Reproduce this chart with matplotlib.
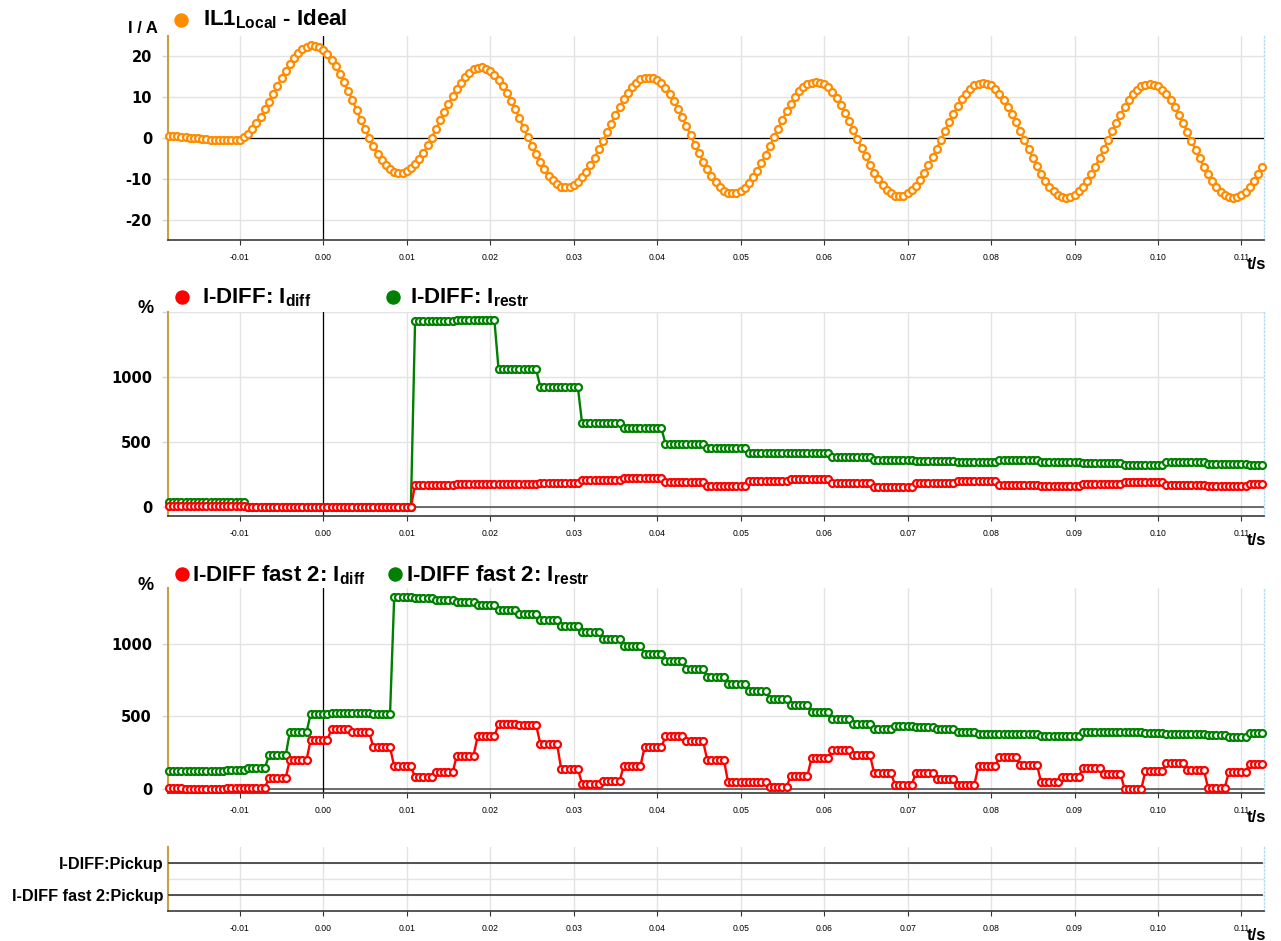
import numpy as np
import matplotlib
matplotlib.use("Agg")
import matplotlib.pyplot as plt
from matplotlib.lines import Line2D

plt.rcParams['axes.unicode_minus'] = False
plt.rcParams['mathtext.fontset'] = 'custom'
plt.rcParams['mathtext.rm'] = 'Liberation Sans'
plt.rcParams['mathtext.bf'] = 'Liberation Sans:bold'
plt.rcParams['mathtext.it'] = 'Liberation Sans:italic'

W, H = 1281, 941

# ---------------- data ----------------
# sampling grid: 0.5 ms samples starting at -18.5 ms
t0_ms = -18.5
step_ms = 0.5
n_samples = 263
t = (t0_ms + step_ms * np.arange(n_samples)) / 1000.0

# IL1 Local - Ideal (A), one value per sample
il1_ideal = [
    0.6, 0.5, 0.4, 0.3, 0.2, 0.1, 0.0, -0.1, -0.2, -0.3, -0.4, -0.5, -0.6, -0.6, -0.6,
    -0.5, -0.6, -0.4, 0.2, 1.0, 2.2, 3.6, 5.2, 7.0, 8.9,
    10.8, 12.8, 14.7, 16.5, 18.1, 19.6, 20.8, 21.7, 22.4, 22.7,
    22.6, 22.3, 21.6, 20.5, 19.2, 17.6, 15.8, 13.7, 11.5, 9.2,
    6.9, 4.5, 2.2, 0.0, -2.0, -3.8, -5.4, -6.7, -7.6, -8.3,
    -8.6, -8.6, -8.2, -7.4, -6.4, -5.1, -3.6, -1.8, 0.1, 2.2,
    4.3, 6.3, 8.4, 10.3, 12.1, 13.6, 15.0, 16.0, 16.8, 17.2,
    17.3, 17.0, 16.5, 15.5, 14.3, 12.8, 11.1, 9.1, 7.0, 4.8,
    2.5, 0.3, -1.9, -4.0, -6.0, -7.7, -9.2, -10.4, -11.3, -11.9,
    -12.1, -12.0, -11.5, -10.7, -9.6, -8.3, -6.6, -4.8, -2.8, -0.8,
    1.4, 3.5, 5.6, 7.6, 9.5, 11.1, 12.5, 13.6, 14.4, 14.8,
    14.8, 14.7, 14.2, 13.4, 12.2, 10.7, 9.0, 7.1, 5.1, 2.9,
    0.7, -1.6, -3.7, -5.8, -7.7, -9.4, -10.9, -12.0, -12.9, -13.4,
    -13.6, -13.5, -13.0, -12.2, -11.1, -9.6, -8.0, -6.1, -4.1, -2.0,
    0.2, 2.3, 4.4, 6.5, 8.3, 10.0, 11.4, 12.5, 13.2, 13.6,
    13.7, 13.6, 13.2, 12.4, 11.2, 9.8, 8.1, 6.2, 4.2, 2.0,
    -0.2, -2.4, -4.5, -6.6, -8.5, -10.1, -11.6, -12.7, -13.6, -14.1,
    -14.3, -14.1, -13.6, -12.8, -11.7, -10.2, -8.6, -6.7, -4.7, -2.6,
    -0.4, 1.8, 3.9, 6.0, 7.8, 9.5, 10.9, 12.0, 12.9, 13.3,
    13.4, 13.3, 12.9, 12.0, 10.9, 9.4, 7.7, 5.9, 3.8, 1.7,
    -0.5, -2.7, -4.9, -6.9, -8.8, -10.5, -11.9, -13.0, -13.9, -14.4,
    -14.6, -14.4, -13.9, -13.1, -11.9, -10.5, -8.8, -7.0, -5.0, -2.8,
    -0.6, 1.6, 3.7, 5.7, 7.6, 9.3, 10.7, 11.8, 12.7, 13.1,
    13.3, 13.1, 12.7, 11.8, 10.7, 9.2, 7.6, 5.7, 3.7, 1.5,
    -0.7, -2.9, -5.0, -7.1, -8.9, -10.6, -12.0, -13.2, -14.0, -14.5,
    -14.7, -14.5, -14.0, -13.2, -12.0, -10.6, -8.9, -7.1,
]

# I-DIFF (5 ms steps): level per step and samples per step
idiff_counts = [19] + [10] * 24 + [4]
idiff_levels = [9, 0, 0, 0, 0, 169, 174, 176, 187, 210, 220, 195, 162,
                197, 212, 185, 156, 187, 197, 172, 159, 177, 190, 172, 164, 177]
irestr_levels = [40, 0, 0, 0, 0, 1430, 1440, 1058, 924, 647, 608, 485, 451,
                 418, 412, 386, 364, 354, 343, 360, 345, 338, 324, 343, 330, 324]

# I-DIFF fast 2 (2.5 ms steps)
fast_counts = [4] + [5] * 51 + [4]
fast_idiff_levels = [5, 3, 2, 5, 8, 76, 202, 340, 416, 393, 287, 156, 80, 115,
                     230, 363, 448, 439, 313, 138, 37, 55, 159, 288, 362, 330,
                     200, 46, 46, 12, 92, 212, 270, 233, 108, 30, 111, 71, 30,
                     159, 217, 166, 46, 83, 147, 106, 0, 124, 180, 129, 9, 120, 175]
fast_irestr_levels = [126, 126, 126, 130, 145, 232, 393, 520, 525, 522, 517,
                      1324, 1318, 1306, 1287, 1267, 1237, 1207, 1163, 1125, 1083,
                      1032, 984, 933, 880, 829, 774, 721, 673, 622, 576, 530, 484,
                      449, 410, 433, 426, 410, 394, 376, 376, 376, 364, 364, 394,
                      394, 394, 387, 380, 376, 369, 359, 389]

# binary pickup signals (never picked up)
pickup_t = [t[0], t[-1]]
pickup_idiff = [0, 0]
pickup_fast2 = [0, 0]

x_ticks = [-0.01, 0.00, 0.01, 0.02, 0.03, 0.04, 0.05, 0.06, 0.07, 0.08, 0.09, 0.10, 0.11]
x_tick_labels = ["-0.01", "0.00", "0.01", "0.02", "0.03", "0.04", "0.05",
                 "0.06", "0.07", "0.08", "0.09", "0.10", "0.11"]

idiff = np.repeat(idiff_levels, idiff_counts)
irestr = np.repeat(irestr_levels, idiff_counts)
fidiff = np.repeat(fast_idiff_levels, fast_counts)
firestr = np.repeat(fast_irestr_levels, fast_counts)

# ---------------- figure ----------------
ORANGE = '#ff8c00'
RED = '#ff0000'
GREEN = '#008000'
XMIN, XMAX = -0.0186, 0.1127
L_PX, R_PX = 168, 1264


def fx(px):
    return px / W


def fy(py):
    return 1 - py / H


fig = plt.figure(figsize=(W / 100, H / 100), dpi=100)


def make_ax(top, bottom):
    ax = fig.add_axes([fx(L_PX), fy(bottom), (R_PX - L_PX) / W, (bottom - top) / H])
    ax.set_xlim(XMIN, XMAX)
    ax.set_xticks(x_ticks)
    ax.set_xticklabels(x_tick_labels, fontsize=6.2, family='Liberation Sans')
    ax.grid(True, color='#e3e3e3', lw=1.0)
    ax.set_axisbelow(True)
    ax.spines['top'].set_visible(False)
    ax.spines['left'].set_color('#c9a23f')
    ax.spines['left'].set_linewidth(1.5)
    ax.spines['bottom'].set_color('#3a3a3a')
    ax.spines['bottom'].set_linewidth(1.2)
    ax.spines['right'].set_color('#b5dcee')
    ax.spines['right'].set_linestyle(':')
    ax.spines['right'].set_linewidth(1.0)
    ax.tick_params(axis='x', direction='out', length=3.5, width=0.8,
                   color='#333333', pad=6.0)
    ax.tick_params(axis='y', direction='out', length=4.5, width=1.0,
                   color='#d6d6d6', pad=7, labelsize=10.5)
    return ax


def style_yticks(ax):
    for lab in ax.get_yticklabels():
        lab.set_fontweight('bold')
        lab.set_family('DejaVu Sans')
        lab.set_fontsize(10.5)


def series(ax, x, y, c, z=3):
    ax.plot(x, y, '-', color=c, lw=1.7, marker='o', ms=5.0, mfc='white',
            mec=c, mew=1.6, zorder=z, clip_on=False)


def legend_dot(xp, yp, c):
    fig.add_artist(Line2D([fx(xp)], [fy(yp)], marker='o', ms=9.4, color=c,
                          linestyle='none', transform=fig.transFigure))


def ftext(xp, yp, s, size, **kw):
    fig.text(fx(xp), fy(yp), s, fontsize=size, fontweight='bold',
             family='Liberation Sans', va='baseline', **kw)


# Panel 1
ax1 = make_ax(36, 240)
ax1.set_ylim(-25, 25)
ax1.set_yticks([-20, -10, 0, 10, 20])
ax1.set_yticklabels(["-20", "-10", "0", "10", "20"])
style_yticks(ax1)
ax1.axhline(0, color='black', lw=0.9, zorder=2)
ax1.axvline(0, color='black', lw=0.9, zorder=2)
series(ax1, t, il1_ideal, ORANGE)

# Panel 2
ax2 = make_ax(312, 516)
ax2.set_ylim(-70, 1500)
ax2.set_yticks([0, 500, 1000, 1500])
ax2.set_yticklabels(["0", "500", "1000", ""])
style_yticks(ax2)
ax2.axhline(0, color='#555555', lw=1.2, zorder=2)
ax2.axvline(0, color='black', lw=0.9, zorder=2)
series(ax2, t, irestr, GREEN, 3)
series(ax2, t, idiff, RED, 4)

# Panel 3
ax3 = make_ax(588, 793)
ax3.set_ylim(-28, 1386)
ax3.set_yticks([0, 500, 1000])
ax3.set_yticklabels(["0", "500", "1000"])
style_yticks(ax3)
ax3.axhline(0, color='#555555', lw=1.2, zorder=2)
ax3.axvline(0, color='black', lw=0.9, zorder=2)
series(ax3, t, firestr, GREEN, 3)
series(ax3, t, fidiff, RED, 4)

# Panel 4
ax4 = make_ax(847, 911)
ax4.set_ylim(0, 4)
ax4.set_yticks([1, 2, 3])
ax4.set_yticklabels(["I-DIFF fast 2:Pickup", "", "I-DIFF:Pickup"])
ax4.tick_params(axis='y', length=0, pad=3.6)
for lab in ax4.get_yticklabels():
    lab.set_fontweight('bold')
    lab.set_family('Liberation Sans')
    lab.set_fontsize(11.7)
ax4.plot(pickup_t, np.array(pickup_idiff) + 3, color='#444444', lw=1.3, zorder=3)
ax4.plot(pickup_t, np.array(pickup_fast2) + 1, color='#444444', lw=1.3, zorder=3)

# axis titles / units
ftext(128, 33, 'I / A', 12)
ftext(137, 313, '%', 13)
ftext(137, 590, '%', 13)
for yb in (269, 545, 822, 940):
    ftext(1247, yb, 't/s', 12)

# legends
legend_dot(181, 20, ORANGE)
ftext(203, 25, r'IL1$_{\mathbf{Local}}$ - Ideal', 16)
legend_dot(181.5, 296.5, RED)
ftext(201.5, 303, r'I-DIFF: I$_{\mathbf{diff}}$', 16)
legend_dot(392.5, 296.5, GREEN)
ftext(409.5, 303, r'I-DIFF: I$_{\mathbf{restr}}$', 16)
legend_dot(181.5, 573.5, RED)
ftext(192.5, 581, r'I-DIFF fast 2: I$_{\mathbf{diff}}$', 16)
legend_dot(395, 573.5, GREEN)
ftext(406, 581, r'I-DIFF fast 2: I$_{\mathbf{restr}}$', 16)

fig.savefig('out.png', dpi=100)
